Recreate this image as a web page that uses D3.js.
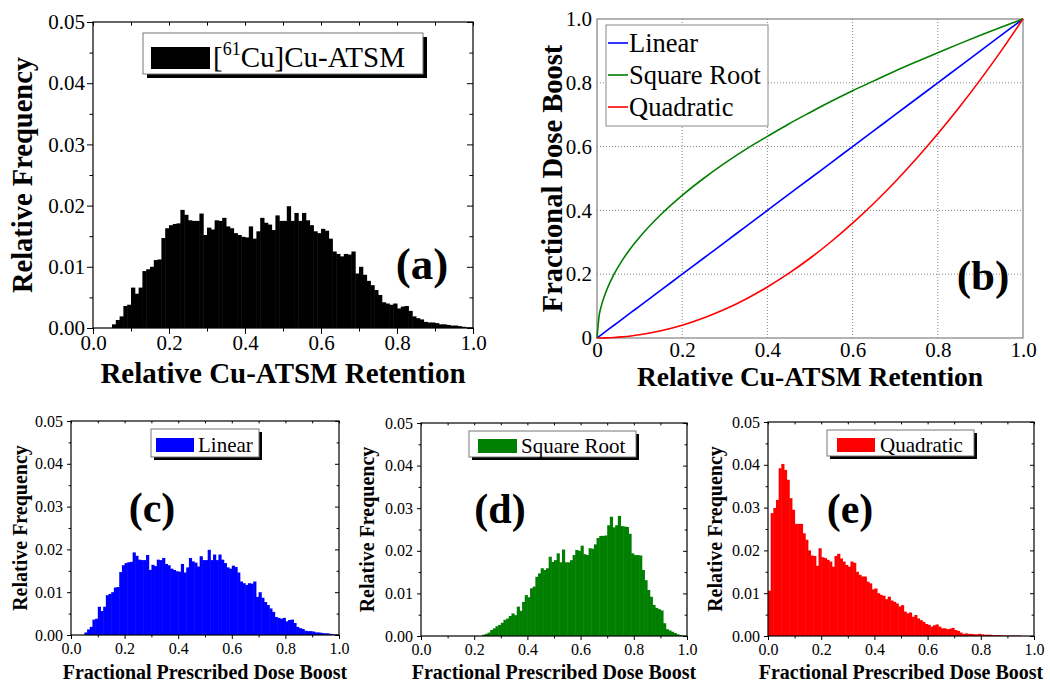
<!DOCTYPE html>
<html>
<head>
<meta charset="utf-8">
<script src="https://cdn.jsdelivr.net/npm/d3@7"></script>
<style>
body { margin: 0; background: #fff; }
svg { display: block; font-family: "Liberation Serif", "Times New Roman", serif; }
</style>
</head>
<body>
<svg id="chart" width="1050" height="693"></svg>
<script>
// histogram bins are 0.01 wide, 100 bins from 0 to 1
var binWidth = 0.01;

// (a) and (c): relative Cu-ATSM retention (linear boost gives the same histogram)
var retention = [
  0, 0, 0, 0, 0, 0.0006, 0.0013, 0.0019, 0.0036, 0.0038,
  0.0066, 0.0056, 0.0066, 0.0093, 0.0096, 0.0100, 0.0111, 0.0112, 0.0147, 0.0163,
  0.0168, 0.0170, 0.0171, 0.0193, 0.0185, 0.0176, 0.0175, 0.0175, 0.0187, 0.0152,
  0.0164, 0.0161, 0.0176, 0.0175, 0.0180, 0.0166, 0.0163, 0.0155, 0.0152, 0.0149,
  0.0148, 0.0166, 0.0146, 0.0158, 0.0180, 0.0172, 0.0169, 0.0160, 0.0184, 0.0175,
  0.0175, 0.0199, 0.0175, 0.0188, 0.0175, 0.0188, 0.0176, 0.0168, 0.0158, 0.0155,
  0.0162, 0.0159, 0.0146, 0.0125, 0.0121, 0.0117, 0.0121, 0.0120, 0.0125, 0.0089,
  0.0100, 0.0087, 0.0077, 0.0070, 0.0062, 0.0054, 0.0042, 0.0040, 0.0038, 0.0040,
  0.0032, 0.0035, 0.0036, 0.0028, 0.0019, 0.0016, 0.0014, 0.0010, 0.0009, 0.0009,
  0.0008, 0.0006, 0.0006, 0.0005, 0.0004, 0.0004, 0.0003, 0.0002, 0.0001, 0.0001
];

// (d): square root boost
var sqrtBoost = [
  0, 0, 0, 0, 0, 0, 0, 0, 0, 0,
  0, 0, 0, 0, 0, 0, 0, 0, 0, 0,
  0, 0, 0, 0.0003, 0.0005, 0.0008, 0.0014, 0.0018, 0.0023, 0.0026,
  0.0031, 0.0038, 0.0041, 0.0047, 0.0053, 0.0049, 0.0069, 0.0059, 0.0080, 0.0096,
  0.0091, 0.0112, 0.0116, 0.0139, 0.0147, 0.0159, 0.0155, 0.0159, 0.0186, 0.0174,
  0.0178, 0.0194, 0.0173, 0.0203, 0.0173, 0.0173, 0.0178, 0.0190, 0.0202, 0.0200,
  0.0212, 0.0192, 0.0190, 0.0206, 0.0205, 0.0215, 0.0230, 0.0235, 0.0235, 0.0236,
  0.0260, 0.0280, 0.0255, 0.0260, 0.0282, 0.0258, 0.0257, 0.0256, 0.0240, 0.0194,
  0.0190, 0.0190, 0.0189, 0.0155, 0.0131, 0.0108, 0.0092, 0.0073, 0.0066, 0.0063,
  0.0060, 0.0030, 0.0016, 0.0013, 0.0010, 0.0007, 0.0004, 0.0002, 0.0001, 0
];

// (e): quadratic boost
var quadBoost = [
  0.0106, 0.0287, 0.0299, 0.0318, 0.0392, 0.0402, 0.0388, 0.0365, 0.0322, 0.0295,
  0.0262, 0.0262, 0.0262, 0.0240, 0.0225, 0.0200, 0.0188, 0.0187, 0.0164, 0.0205,
  0.0184, 0.0182, 0.0178, 0.0174, 0.0162, 0.0187, 0.0192, 0.0181, 0.0174, 0.0166,
  0.0162, 0.0174, 0.0171, 0.0150, 0.0143, 0.0139, 0.0139, 0.0127, 0.0123, 0.0109,
  0.0111, 0.0100, 0.0096, 0.0094, 0.0086, 0.0092, 0.0083, 0.0080, 0.0076, 0.0069,
  0.0072, 0.0057, 0.0053, 0.0055, 0.0045, 0.0049, 0.0041, 0.0037, 0.0033, 0.0028,
  0.0026, 0.0022, 0.0025, 0.0027, 0.0022, 0.0018, 0.0018, 0.0016, 0.0017, 0.0019,
  0.0014, 0.0012, 0.0008, 0.0005, 0.0006, 0.0005, 0.0005, 0.0004, 0.0004, 0.0005,
  0.0004, 0.0003, 0.0003, 0.0003, 0.0002, 0.0002, 0.0002, 0.0002, 0.0001, 0.0001,
  0.0001, 0.0001, 0.0001, 0.0001, 0.0001, 0, 0, 0, 0, 0
];

// (b): dose boost curves, read at these retention values
var curveX  = [0, 0.005, 0.01, 0.02, 0.04, 0.06, 0.08, 0.1, 0.15, 0.2, 0.25, 0.3, 0.35, 0.4, 0.45, 0.5, 0.55, 0.6, 0.65, 0.7, 0.75, 0.8, 0.85, 0.9, 0.95, 1.0];
var linearY = [0, 0.005, 0.01, 0.02, 0.04, 0.06, 0.08, 0.1, 0.15, 0.2, 0.25, 0.3, 0.35, 0.4, 0.45, 0.5, 0.55, 0.6, 0.65, 0.7, 0.75, 0.8, 0.85, 0.9, 0.95, 1.0];
var sqrtY   = [0, 0.07, 0.1, 0.141, 0.2, 0.245, 0.283, 0.316, 0.387, 0.447, 0.5, 0.548, 0.592, 0.632, 0.671, 0.707, 0.742, 0.775, 0.806, 0.837, 0.866, 0.894, 0.922, 0.949, 0.975, 1.0];
var quadY   = [0, 0, 0.0001, 0.0004, 0.0016, 0.0036, 0.0064, 0.01, 0.0225, 0.04, 0.0625, 0.09, 0.1225, 0.16, 0.2025, 0.25, 0.3025, 0.36, 0.4225, 0.49, 0.5625, 0.64, 0.7225, 0.81, 0.9025, 1.0];

var curveNames = ["Linear", "Square Root", "Quadratic"];
var curveColors = ["#0000ff", "#007f00", "#ff0000"];

var histXTicks = [0, 0.2, 0.4, 0.6, 0.8, 1.0];
var histXMinor = [0.1, 0.3, 0.5, 0.7, 0.9];
var histYTicks = [0, 0.01, 0.02, 0.03, 0.04, 0.05];
var histYMinor = [0.005, 0.015, 0.025, 0.035, 0.045];

var svg = d3.select("#chart");

function styleAxis(g, size) {
  g.attr("font-family", null).attr("font-size", size);
  g.select(".domain").remove();
  g.selectAll("text").attr("fill", "#000");
  g.selectAll("line").attr("stroke", "#000");
}

function histPanel(p) {
  var x = d3.scaleLinear().domain([0, 1]).range([p.left, p.right]);
  var y = d3.scaleLinear().domain([0, 0.05]).range([p.bottom, p.top]);
  var g = svg.append("g");

  g.selectAll("rect.bar")
    .data(p.values)
  .enter().append("rect")
    .attr("class", "bar")
    .attr("x", function (d, i) { return x(i * binWidth); })
    .attr("width", x(binWidth) - x(0) + 0.5)
    .attr("y", function (d) { return y(d); })
    .attr("height", function (d) { return y(0) - y(d); })
    .attr("fill", p.color);

  // ticks, outward on left/bottom, inward on right/top
  var big = p.tick, small = p.tick * 0.6;
  g.append("g").attr("transform", "translate(0," + p.bottom + ")")
    .call(d3.axisBottom(x).tickValues(histXTicks).tickFormat(d3.format(".1f")).tickSize(big).tickPadding(p.xpad))
    .call(styleAxis, p.tickFont);
  g.append("g").attr("transform", "translate(0," + p.bottom + ")")
    .call(d3.axisBottom(x).tickValues(histXMinor).tickFormat("").tickSize(small))
    .call(styleAxis, p.tickFont);
  g.append("g").attr("transform", "translate(" + p.left + ",0)")
    .call(d3.axisLeft(y).tickValues(histYTicks).tickFormat(d3.format(".2f")).tickSize(big).tickPadding(p.ypad))
    .call(styleAxis, p.tickFont);
  g.append("g").attr("transform", "translate(" + p.left + ",0)")
    .call(d3.axisLeft(y).tickValues(histYMinor).tickFormat("").tickSize(small))
    .call(styleAxis, p.tickFont);
  g.append("g").attr("transform", "translate(0," + p.top + ")")
    .call(d3.axisTop(x).tickValues(histXTicks.concat(histXMinor)).tickFormat("").tickSize(-small))
    .call(styleAxis, p.tickFont);
  g.append("g").attr("transform", "translate(" + p.right + ",0)")
    .call(d3.axisRight(y).tickValues(histYTicks).tickFormat("").tickSize(-big))
    .call(styleAxis, p.tickFont);
  g.append("g").attr("transform", "translate(" + p.right + ",0)")
    .call(d3.axisRight(y).tickValues(histYMinor).tickFormat("").tickSize(-small))
    .call(styleAxis, p.tickFont);

  g.append("rect")
    .attr("x", p.left).attr("y", p.top)
    .attr("width", p.right - p.left).attr("height", p.bottom - p.top)
    .attr("fill", "none").attr("stroke", "#000").attr("stroke-width", 1.2);

  // axis titles
  g.append("text")
    .attr("x", (p.left + p.right) / 2).attr("y", p.xTitleY)
    .attr("text-anchor", "middle").attr("font-weight", "bold")
    .attr("font-size", p.xTitleFont)
    .text(p.xTitle);
  g.append("text")
    .attr("transform", "translate(" + p.yTitleX + "," + ((p.top + p.bottom) / 2) + ") rotate(-90)")
    .attr("text-anchor", "middle").attr("font-weight", "bold")
    .attr("font-size", p.yTitleFont)
    .text("Relative Frequency");

  // legend with drop shadow
  var L = p.legend;
  g.append("rect").attr("x", L.x + L.sh).attr("y", L.y + L.sh)
    .attr("width", L.w).attr("height", L.h).attr("fill", "#000");
  g.append("rect").attr("x", L.x).attr("y", L.y)
    .attr("width", L.w).attr("height", L.h)
    .attr("fill", "#fff").attr("stroke", "#777").attr("stroke-width", 1);
  g.append("rect").attr("x", L.sx).attr("y", L.sy)
    .attr("width", L.sw).attr("height", L.shh).attr("fill", p.color);
  var t = g.append("text").attr("x", L.tx).attr("y", L.ty).attr("font-size", L.font);
  if (p.isotope) {
    t.append("tspan").text("[");
    t.append("tspan").attr("font-size", L.font * 0.62).attr("dy", -L.font * 0.4).text("61");
    t.append("tspan").attr("dy", L.font * 0.4).text("Cu]Cu-ATSM");
  } else {
    t.text(p.name);
  }

  g.append("text")
    .attr("x", p.letter[0]).attr("y", p.letter[1])
    .attr("text-anchor", "middle").attr("font-weight", "bold")
    .attr("font-size", p.letterFont)
    .text(p.letterText);
}

// (a)
histPanel({
  left: 93, right: 473, top: 22, bottom: 328,
  values: retention, color: "#000", isotope: true,
  tick: 6, xpad: 1, ypad: 2, tickFont: 21, xTitleFont: 29, yTitleFont: 28.5,
  xTitle: "Relative Cu-ATSM Retention", xTitleY: 383, yTitleX: 32,
  legend: { x: 143, y: 33, w: 280, h: 41, sh: 4, sx: 151, sy: 47, sw: 59, shh: 22, tx: 213, ty: 67, font: 29 },
  letter: [422, 279], letterFont: 45, letterText: "(a)"
});

// (c)
histPanel({
  left: 71, right: 339, top: 421, bottom: 635,
  values: retention, color: "#0000ff", name: "Linear",
  tick: 4, xpad: 4, ypad: 4, tickFont: 16, xTitleFont: 20, yTitleFont: 20,
  xTitle: "Fractional Prescribed Dose Boost", xTitleY: 679, yTitleX: 27,
  legend: { x: 151, y: 429, w: 108, h: 28, sh: 3, sx: 156, sy: 438, sw: 38, shh: 14, tx: 198, ty: 452, font: 21 },
  letter: [152, 522], letterFont: 42, letterText: "(c)"
});

// (d)
histPanel({
  left: 421, right: 687, top: 423, bottom: 636,
  values: sqrtBoost, color: "#007f00", name: "Square Root",
  tick: 4, xpad: 4, ypad: 4, tickFont: 16, xTitleFont: 20, yTitleFont: 20,
  xTitle: "Fractional Prescribed Dose Boost", xTitleY: 679, yTitleX: 374,
  legend: { x: 469, y: 431, w: 167, h: 26, sh: 3, sx: 478, sy: 439, sw: 39, shh: 14, tx: 521, ty: 453, font: 21 },
  letter: [500, 523], letterFont: 42, letterText: "(d)"
});

// (e)
histPanel({
  left: 768, right: 1034, top: 422, bottom: 636,
  values: quadBoost, color: "#ff0000", name: "Quadratic",
  tick: 4, xpad: 4, ypad: 4, tickFont: 16, xTitleFont: 20, yTitleFont: 20,
  xTitle: "Fractional Prescribed Dose Boost", xTitleY: 679, yTitleX: 722,
  legend: { x: 827, y: 430, w: 147, h: 26, sh: 3, sx: 837, sy: 438, sw: 38, shh: 14, tx: 880, ty: 452, font: 21 },
  letter: [850, 523], letterFont: 42, letterText: "(e)"
});

// (b) dose boost curves
(function () {
  var left = 597, right = 1023, top = 19, bottom = 338;
  var x = d3.scaleLinear().domain([0, 1]).range([left, right]);
  var y = d3.scaleLinear().domain([0, 1]).range([bottom, top]);
  var g = svg.append("g");
  var ticks = [0, 0.2, 0.4, 0.6, 0.8, 1.0];
  var fmt = function (d) { return d === 0 ? "0" : d3.format(".1f")(d); };

  g.selectAll("line.vgrid").data(ticks.slice(1, 5)).enter().append("line")
    .attr("x1", function (d) { return x(d); }).attr("x2", function (d) { return x(d); })
    .attr("y1", top).attr("y2", bottom)
    .attr("stroke", "#888").attr("stroke-dasharray", "1,2");
  g.selectAll("line.hgrid").data(ticks.slice(1, 5)).enter().append("line")
    .attr("y1", function (d) { return y(d); }).attr("y2", function (d) { return y(d); })
    .attr("x1", left).attr("x2", right)
    .attr("stroke", "#888").attr("stroke-dasharray", "1,2");

  g.append("g").attr("transform", "translate(0," + bottom + ")")
    .call(d3.axisBottom(x).tickValues(ticks).tickFormat(fmt).tickSize(0).tickPadding(4))
    .call(styleAxis, 21);
  g.append("g").attr("transform", "translate(" + left + ",0)")
    .call(d3.axisLeft(y).tickValues(ticks).tickFormat(fmt).tickSize(0).tickPadding(5))
    .call(styleAxis, 21);

  g.append("rect")
    .attr("x", left).attr("y", top).attr("width", right - left).attr("height", bottom - top)
    .attr("fill", "none").attr("stroke", "#808080").attr("stroke-width", 1.2);

  var series = [linearY, sqrtY, quadY];
  var line = d3.line()
    .x(function (d) { return x(d[0]); })
    .y(function (d) { return y(d[1]); })
    .curve(d3.curveMonotoneX);
  series.forEach(function (ys, k) {
    g.append("path")
      .datum(curveX.map(function (v, i) { return [v, ys[i]]; }))
      .attr("d", line)
      .attr("fill", "none").attr("stroke", curveColors[k]).attr("stroke-width", 1.6);
  });

  // legend
  g.append("rect").attr("x", 606).attr("y", 25).attr("width", 162).attr("height", 101)
    .attr("fill", "#fff").attr("stroke", "#888");
  var rowY = [43, 75, 107];
  curveNames.forEach(function (n, k) {
    g.append("line").attr("x1", 608).attr("x2", 628)
      .attr("y1", rowY[k]).attr("y2", rowY[k])
      .attr("stroke", curveColors[k]).attr("stroke-width", 1.6);
    g.append("text").attr("x", 629).attr("y", rowY[k] + 9)
      .attr("font-size", 26.5).text(n);
  });

  g.append("text").attr("x", left + (right - left) / 2).attr("y", 386)
    .attr("text-anchor", "middle").attr("font-weight", "bold").attr("font-size", 27.5)
    .text("Relative Cu-ATSM Retention");
  g.append("text")
    .attr("transform", "translate(562," + ((top + bottom) / 2) + ") rotate(-90)")
    .attr("text-anchor", "middle").attr("font-weight", "bold").attr("font-size", 28.5)
    .text("Fractional Dose Boost");
  g.append("text").attr("x", 983).attr("y", 290)
    .attr("text-anchor", "middle").attr("font-weight", "bold").attr("font-size", 43)
    .text("(b)");
})();
</script>
</body>
</html>
